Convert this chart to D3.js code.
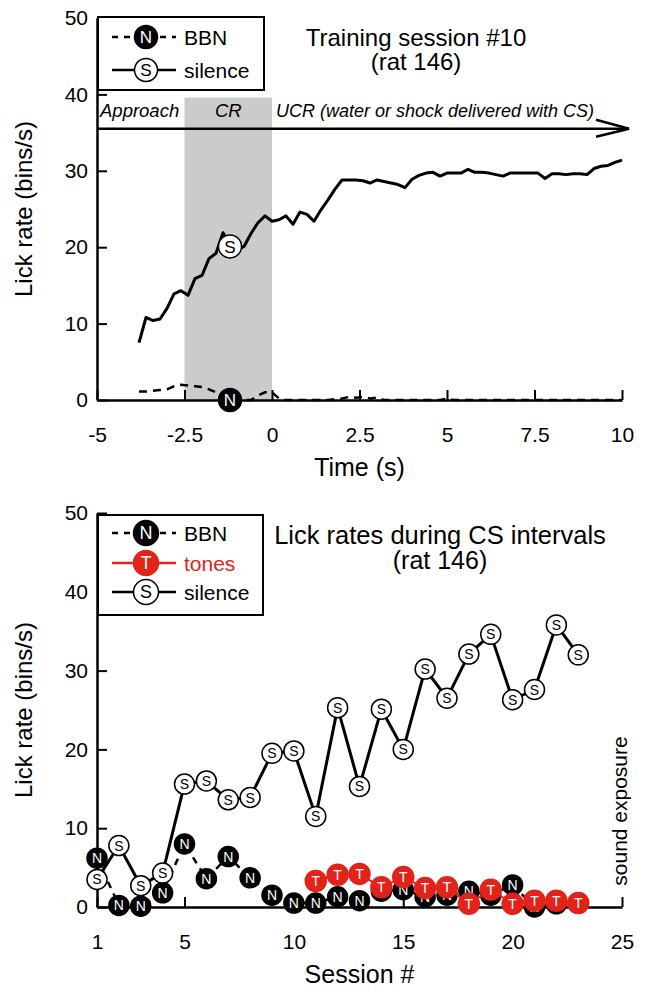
<!DOCTYPE html>
<html>
<head>
<meta charset="utf-8">
<script src="https://cdn.jsdelivr.net/npm/d3@7"></script>
<style>
body { margin: 0; background: #fff; }
svg { font-family: "Liberation Sans", Arial, Helvetica, sans-serif; }
</style>
</head>
<body>
<div id="chart"></div>
<script>
// ---- top panel: lick rate within one trial (session 10) ----
var trialTimes = [-3.8, -3.6, -3.4, -3.2, -3.0, -2.8, -2.6, -2.4, -2.2, -2.0,
  -1.8, -1.6, -1.4, -1.2, -1.0, -0.8, -0.6, -0.4, -0.2, 0.0,
  0.2, 0.4, 0.6, 0.8, 1.0, 1.2, 1.4, 1.6, 1.8, 2.0,
  2.2, 2.4, 2.6, 2.8, 3.0, 3.2, 3.4, 3.6, 3.8, 4.0,
  4.2, 4.4, 4.6, 4.8, 5.0, 5.2, 5.4, 5.6, 5.8, 6.0,
  6.2, 6.4, 6.6, 6.8, 7.0, 7.2, 7.4, 7.6, 7.8, 8.0,
  8.2, 8.4, 8.6, 8.8, 9.0, 9.2, 9.4, 9.6, 9.8, 10.0];
var silenceTrial = [7.5, 10.8, 10.4, 10.6, 12.0, 13.9, 14.3, 13.7, 15.9, 16.3,
  18.5, 19.2, 21.9, 20.4, 19.6, 20.1, 21.8, 23.2, 24.1, 23.4,
  23.6, 24.1, 23.0, 24.6, 24.3, 23.4, 24.9, 26.2, 27.6, 28.8,
  28.8, 28.8, 28.7, 28.4, 28.8, 28.6, 28.4, 28.2, 27.8, 28.9,
  29.4, 29.7, 29.8, 29.3, 29.7, 29.7, 29.7, 30.2, 29.8, 29.8,
  29.7, 29.5, 29.3, 29.7, 29.7, 29.7, 29.7, 29.7, 29.0, 29.6,
  29.6, 29.5, 29.6, 29.6, 29.5, 30.3, 30.6, 30.7, 31.1, 31.4];
var bbnTrial = [1.1, 1.1, 1.2, 1.3, 1.4, 1.8, 2.0, 1.9, 1.8, 1.7,
  1.4, 1.0, 0.3, 0, 0, 0, 0, 0.6, 1.0, 1.0,
  0.2, 0, 0, 0, 0, 0, 0, 0, 0.1, 0.2,
  0.4, 0.3, 0.4, 0.2, 0.3, 0, 0, 0, 0, 0,
  0, 0, 0, 0, 0.2, 0, 0, 0, 0, 0,
  0, 0, 0, 0, 0, 0, 0, 0, 0, 0,
  0, 0, 0, 0, 0, 0, 0, 0, 0, 0];
var trialMarkerIndex = 13;   // t = -1.2 s
var crWindow = [-2.5, 0];
var timeTicks = [-5, -2.5, 0, 2.5, 5, 7.5, 10];
var rateTicks = [0, 10, 20, 30, 40, 50];

// ---- bottom panel: lick rate per session ----
var sessions = [1, 2, 3, 4, 5, 6, 7, 8, 9, 10, 11, 12, 13, 14, 15, 16, 17, 18, 19, 20, 21, 22, 23];
var bbnRates = [6.2, 0.2, 0.1, 1.8, 8.0, 3.6, 6.4, 3.7, 1.5, 0.5, 0.5, 1.3,
  0.8, 2.0, 2.2, 1.3, 1.5, 2.0, 1.5, 2.8, 0, 0.4, 0.5];
var toneSessions = [11, 12, 13, 14, 15, 16, 17, 18, 19, 20, 21, 22, 23];
var toneRates = [3.3, 4.1, 4.2, 2.5, 3.8, 2.4, 2.5, 0.4, 2.2, 0.4, 0.8, 0.8, 0.5];
var silenceRates = [3.5, 7.8, 2.7, 4.3, 15.6, 16.0, 13.6, 13.9, 19.5, 19.8, 11.5, 25.3,
  15.3, 25.1, 20.0, 30.2, 26.5, 32.1, 34.6, 26.3, 27.6, 35.8, 32.0];
var sessionTicks = [1, 5, 10, 15, 20, 25];

var red = '#e2231a';

var svg = d3.select('#chart').append('svg')
  .attr('width', 651)
  .attr('height', 998);

function marker(g, cx, cy, r, kind, fontSize) {
  var fill = kind == 'N' ? '#000' : (kind == 'T' ? red : '#fff');
  var stroke = kind == 'T' ? red : '#000';
  g.append('circle')
    .attr('cx', cx).attr('cy', cy).attr('r', r)
    .attr('fill', fill).attr('stroke', stroke).attr('stroke-width', 1.5);
  g.append('text')
    .attr('x', cx).attr('y', cy).attr('dy', '0.36em')
    .attr('text-anchor', 'middle')
    .attr('font-size', fontSize)
    .attr('fill', kind == 'S' ? '#000' : '#fff')
    .text(kind);
}

function styleAxis(g) {
  g.attr('font-size', 21).attr('font-family', null);
  g.select('.domain').attr('stroke-width', 2.5);
  g.selectAll('.tick line').attr('stroke-width', 2);
  g.selectAll('.tick text').attr('fill', '#000');
}

function legend(g, x0, y0, x1, y1, rows, r, fs) {
  g.append('rect')
    .attr('x', x0).attr('y', y0).attr('width', x1 - x0).attr('height', y1 - y0)
    .attr('fill', '#fff').attr('stroke', '#000').attr('stroke-width', 2);
  rows.forEach(function(row) {
    var col = row.kind == 'T' ? red : '#000';
    g.append('line')
      .attr('x1', x0 + 14).attr('x2', x0 + 78).attr('y1', row.y).attr('y2', row.y)
      .attr('stroke', col).attr('stroke-width', 2.5)
      .attr('stroke-dasharray', row.dashed ? '6,6' : null);
    marker(g, x0 + 48, row.y, r, row.kind, fs);
    g.append('text')
      .attr('x', x0 + 86).attr('y', row.y).attr('dy', '0.36em')
      .attr('font-size', 21).attr('fill', col)
      .text(row.label);
  });
}

// ================= top panel =================
var xT = d3.scaleLinear().domain([-5, 10]).range([97, 622]);
var yT = d3.scaleLinear().domain([0, 50]).range([400, 18]);
var topG = svg.append('g');

topG.append('rect')
  .attr('x', xT(crWindow[0]))
  .attr('y', yT(39.6))
  .attr('width', xT(crWindow[1]) - xT(crWindow[0]))
  .attr('height', yT(0) - yT(39.6))
  .attr('fill', '#cbcbcb');

// timeline arrow
var arrowY = yT(35.5), arrowEnd = xT(10.2);
topG.append('line')
  .attr('x1', xT(-5)).attr('x2', arrowEnd).attr('y1', arrowY).attr('y2', arrowY)
  .attr('stroke', '#000').attr('stroke-width', 2.5);
topG.append('path')
  .attr('d', 'M' + (arrowEnd - 33) + ',' + (arrowY - 9) + 'L' + arrowEnd + ',' + arrowY + 'L' + (arrowEnd - 33) + ',' + (arrowY + 8))
  .attr('fill', 'none').attr('stroke', '#000').attr('stroke-width', 2.5);

var phaseY = 117;
topG.append('text').attr('x', 100).attr('y', phaseY)
  .attr('font-size', 18.5).attr('font-style', 'italic').text('Approach');
topG.append('text').attr('x', xT(-1.25)).attr('y', phaseY).attr('text-anchor', 'middle')
  .attr('font-size', 18.5).attr('font-style', 'italic').text('CR');
topG.append('text').attr('x', 276).attr('y', phaseY)
  .attr('font-size', 18).attr('font-style', 'italic').text('UCR (water or shock delivered with CS)');

var lineT = function(vals) {
  return d3.line()
    .x(function(d, i) { return xT(trialTimes[i]); })
    .y(function(d) { return yT(d); })(vals);
};

topG.append('path').attr('d', lineT(bbnTrial))
  .attr('fill', 'none').attr('stroke', '#000').attr('stroke-width', 2.5)
  .attr('stroke-dasharray', '8,6');
topG.append('path').attr('d', lineT(silenceTrial))
  .attr('fill', 'none').attr('stroke', '#000').attr('stroke-width', 3)
  .attr('stroke-linejoin', 'round');

var gxT = topG.append('g').attr('transform', 'translate(0,' + yT(0) + ')')
  .call(d3.axisBottom(xT).tickValues(timeTicks).tickSize(-10).tickSizeOuter(0)
    .tickPadding(27).tickFormat(function(d) { return String(d); }));
styleAxis(gxT);
var gyT = topG.append('g').attr('transform', 'translate(' + xT(-5) + ',0)')
  .call(d3.axisLeft(yT).tickValues(rateTicks).tickSize(-10).tickSizeOuter(0).tickPadding(9));
styleAxis(gyT);

marker(topG, xT(trialTimes[trialMarkerIndex]), yT(bbnTrial[trialMarkerIndex]), 11.5, 'N', 17);
marker(topG, xT(trialTimes[trialMarkerIndex]), yT(silenceTrial[trialMarkerIndex] - 0.3), 11.5, 'S', 17);

legend(topG, 98, 17, 264, 90, [
  { y: 37, kind: 'N', label: 'BBN', dashed: true },
  { y: 70, kind: 'S', label: 'silence', dashed: false }
], 11.5, 17);

topG.append('text').attr('x', 416).attr('y', 46).attr('text-anchor', 'middle')
  .attr('font-size', 24).text('Training session #10');
topG.append('text').attr('x', 416).attr('y', 70).attr('text-anchor', 'middle')
  .attr('font-size', 24).text('(rat 146)');

topG.append('text').attr('x', (xT(-5) + xT(10)) / 2).attr('y', 476).attr('text-anchor', 'middle')
  .attr('font-size', 25).text('Time (s)');
topG.append('text')
  .attr('transform', 'translate(32,' + (yT(0) + yT(50)) / 2 + ')rotate(-90)')
  .attr('text-anchor', 'middle').attr('font-size', 24).text('Lick rate (bins/s)');

// ================= bottom panel =================
var xB = d3.scaleLinear().domain([1, 25]).range([97, 622]);
var yB = d3.scaleLinear().domain([0, 50]).range([907, 513]);
var botG = svg.append('g');

var gxB = botG.append('g').attr('transform', 'translate(0,' + yB(0) + ')')
  .call(d3.axisBottom(xB).tickValues(sessionTicks).tickSize(-10).tickSizeOuter(0)
    .tickPadding(27).tickFormat(function(d) { return String(d); }));
styleAxis(gxB);
var gyB = botG.append('g').attr('transform', 'translate(' + xB(1) + ',0)')
  .call(d3.axisLeft(yB).tickValues(rateTicks).tickSize(-10).tickSizeOuter(0).tickPadding(9));
styleAxis(gyB);

var lineB = d3.line()
  .x(function(d) { return xB(d[0]); })
  .y(function(d) { return yB(d[1]); });

var bbnPts = sessions.map(function(s, i) { return [s, bbnRates[i]]; });
var tonePts = toneSessions.map(function(s, i) { return [s, toneRates[i]]; });
var silPts = sessions.map(function(s, i) { return [s, silenceRates[i]]; });

botG.append('path').attr('d', lineB(bbnPts))
  .attr('fill', 'none').attr('stroke', '#000').attr('stroke-width', 2.5)
  .attr('stroke-dasharray', '7,6');
bbnPts.forEach(function(p) { marker(botG, xB(p[0]), yB(p[1]), 10, 'N', 14); });

botG.append('path').attr('d', lineB(tonePts))
  .attr('fill', 'none').attr('stroke', red).attr('stroke-width', 2);
tonePts.forEach(function(p) { marker(botG, xB(p[0]), yB(p[1]), 10.5, 'T', 14); });

botG.append('path').attr('d', lineB(silPts))
  .attr('fill', 'none').attr('stroke', '#000').attr('stroke-width', 3)
  .attr('stroke-linejoin', 'round');
silPts.forEach(function(p) { marker(botG, xB(p[0]), yB(p[1]), 10, 'S', 14); });

legend(botG, 98, 515, 263, 615, [
  { y: 533, kind: 'N', label: 'BBN', dashed: true },
  { y: 563, kind: 'T', label: 'tones', dashed: false },
  { y: 592, kind: 'S', label: 'silence', dashed: false }
], 12.5, 18);

botG.append('text').attr('x', 440).attr('y', 544).attr('text-anchor', 'middle')
  .attr('font-size', 25.5).text('Lick rates during CS intervals');
botG.append('text').attr('x', 440).attr('y', 569).attr('text-anchor', 'middle')
  .attr('font-size', 25).text('(rat 146)');

botG.append('text')
  .attr('transform', 'translate(627,811)rotate(-90)')
  .attr('text-anchor', 'middle').attr('font-size', 21).text('sound exposure');

botG.append('text').attr('x', (xB(1) + xB(25)) / 2).attr('y', 983).attr('text-anchor', 'middle')
  .attr('font-size', 25).text('Session #');
botG.append('text')
  .attr('transform', 'translate(32,' + (yB(0) + yB(50)) / 2 + ')rotate(-90)')
  .attr('text-anchor', 'middle').attr('font-size', 24).text('Lick rate (bins/s)');
</script>
</body>
</html>
